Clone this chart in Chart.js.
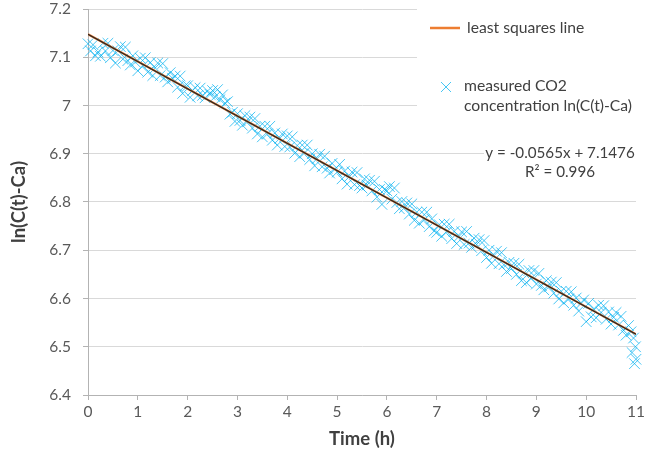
<!DOCTYPE html>
<html lang="en">
<head>
    <meta charset="UTF-8">
    <title>ln(C(t)-Ca) vs time</title>
    <script src="https://cdn.jsdelivr.net/npm/chart.js@4.4.1/dist/chart.umd.min.js"></script>
    <style>
        html, body { margin: 0; padding: 0; background: #fff; }
        #wrap { width: 648px; height: 459px; }
    </style>
</head>
<body>
    <div id="wrap"><canvas id="myChart"></canvas></div>

    <script>
        // readings every 3 minutes
        const sampleStep = 0.05
        const lnValues = [
            7.128, 7.113, 7.126, 7.103, 7.111, 7.102, 7.129, 7.113, 7.129, 7.099, 7.114, 7.088, 7.113, 7.122, 7.096, 7.121, 7.093, 7.084, 7.103, 7.090,
            7.072, 7.098, 7.082, 7.099, 7.069, 7.089, 7.062, 7.078, 7.088, 7.062, 7.087, 7.059, 7.049, 7.068, 7.056, 7.061, 7.038, 7.061, 7.025, 7.041,
            7.041, 7.017, 7.031, 7.037, 7.020, 7.036, 7.021, 7.016, 7.030, 7.023, 7.031, 7.018, 7.033, 7.012, 7.022, 7.005, 7.008, 6.982, 6.986, 6.967,
            6.983, 6.969, 6.959, 6.979, 6.966, 6.976, 6.953, 6.973, 6.941, 6.957, 6.935, 6.957, 6.941, 6.957, 6.928, 6.943, 6.918, 6.932, 6.941, 6.915,
            6.937, 6.914, 6.935, 6.901, 6.917, 6.894, 6.918, 6.902, 6.918, 6.888, 6.900, 6.875, 6.890, 6.899, 6.873, 6.895, 6.870, 6.860, 6.880, 6.867,
            6.862, 6.878, 6.848, 6.864, 6.837, 6.853, 6.862, 6.836, 6.861, 6.834, 6.829, 6.848, 6.835, 6.845, 6.823, 6.843, 6.810, 6.826, 6.795, 6.826,
            6.823, 6.832, 6.806, 6.829, 6.799, 6.786, 6.801, 6.788, 6.798, 6.775, 6.796, 6.762, 6.779, 6.756, 6.779, 6.763, 6.779, 6.749, 6.765, 6.740,
            6.737, 6.753, 6.729, 6.754, 6.738, 6.754, 6.724, 6.739, 6.714, 6.729, 6.738, 6.712, 6.739, 6.715, 6.706, 6.725, 6.712, 6.722, 6.699, 6.720,
            6.685, 6.700, 6.673, 6.689, 6.698, 6.672, 6.695, 6.670, 6.656, 6.675, 6.662, 6.673, 6.650, 6.671, 6.637, 6.653, 6.633, 6.658, 6.642, 6.658,
            6.630, 6.652, 6.627, 6.618, 6.637, 6.624, 6.634, 6.611, 6.633, 6.599, 6.615, 6.591, 6.615, 6.599, 6.614, 6.586, 6.601, 6.574, 6.590, 6.597,
            6.552, 6.590, 6.562, 6.578, 6.560, 6.586, 6.571, 6.585, 6.557, 6.572, 6.547, 6.561, 6.571, 6.545, 6.563, 6.534, 6.524, 6.544, 6.531, 6.518, 6.474
        ]
        // the few low points at the very end
        const outlierTimes = [10.92, 10.97, 10.99]
        const outlierValues = [6.488, 6.465, 6.500]

        // least squares line (from the printed equation)
        const fitTimes = [0, 11]
        const fitValues = [7.1476, 6.5261]
        const equationText = ['y = -0.0565x + 7.1476', 'R\u00b2 = 0.996']

        const yTickLabels = ['6.4', '6.5', '6.6', '6.7', '6.8', '6.9', '7', '7.1', '7.2']
        const xTickLabels = ['0', '1', '2', '3', '4', '5', '6', '7', '8', '9', '10', '11']

        const blue = 'rgba(0, 176, 240, 0.72)'
        const orange = '#ED7D31'
        const font = 'Lato, "Liberation Sans", sans-serif'

        let measured = lnValues.map((v, i) => ({ x: +(i * sampleStep).toFixed(2), y: v }))
        outlierTimes.forEach((t, i) => measured.push({ x: t, y: outlierValues[i] }))
        let fitLine = fitTimes.map((t, i) => ({ x: t, y: fitValues[i] }))

        // legend box + equation label, drawn on top like Excel does
        const overlay = {
            id: 'overlay',
            afterDraw(chart) {
                const c = chart.ctx
                c.save()
                c.fillStyle = '#fff'
                c.fillRect(417, 0, 231, 122)
                c.fillRect(484, 142, 153, 40)

                c.strokeStyle = orange
                c.lineWidth = 2.5
                c.beginPath()
                c.moveTo(430, 28)
                c.lineTo(460, 28)
                c.stroke()

                c.strokeStyle = blue
                c.lineWidth = 1
                c.beginPath()
                c.moveTo(441, 82); c.lineTo(451, 92)
                c.moveTo(451, 82); c.lineTo(441, 92)
                c.stroke()

                c.fillStyle = '#404040'
                c.font = '15.7px ' + font
                c.textBaseline = 'middle'
                c.textAlign = 'left'
                c.fillText('least squares line', 467, 28)
                c.fillText('measured CO2', 464, 86)
                c.fillText('concentration ln(C(t)-Ca)', 464, 106)

                c.font = '15.2px ' + font
                c.textAlign = 'center'
                c.fillText(equationText[0], 560, 153)
                c.fillText(equationText[1], 560, 172)
                c.restore()
            }
        }

        const ctx = document.getElementById('myChart').getContext('2d')
        const myChart = new Chart(ctx, {
            type: 'scatter',
            data: {
                datasets: [{
                    label: 'trend',
                    type: 'line',
                    data: fitLine,
                    borderColor: '#262626',
                    borderWidth: 1.2,
                    pointRadius: 0,
                    order: 1
                }, {
                    label: 'least squares line',
                    type: 'line',
                    data: fitLine,
                    borderColor: orange,
                    borderWidth: 2.2,
                    pointRadius: 0,
                    order: 2
                }, {
                    label: 'measured CO2 concentration ln(C(t)-Ca)',
                    data: measured,
                    pointStyle: 'crossRot',
                    pointRadius: 7.5,
                    borderColor: blue,
                    borderWidth: 1,
                    clip: false,
                    order: 3
                }]
            },
            options: {
                responsive: true,
                maintainAspectRatio: false,
                animation: false,
                layout: { padding: { top: 0, right: 12, bottom: 0, left: 0 } },
                plugins: {
                    legend: { display: false },
                    tooltip: { enabled: false }
                },
                scales: {
                    x: {
                        type: 'linear',
                        min: 0,
                        max: 11,
                        afterFit: s => { s.height = 64 },
                        ticks: {
                            stepSize: 1,
                            color: '#595959',
                            font: { family: font, size: 15.5 },
                            padding: 3,
                            maxRotation: 0,
                            callback: v => xTickLabels[Math.round(v)]
                        },
                        grid: { drawOnChartArea: false, tickLength: 5, color: '#b3b3b3' },
                        border: { color: '#b3b3b3' },
                        title: {
                            display: true,
                            text: 'Time (h)',
                            color: '#404040',
                            font: { family: font, size: 18.5, weight: 'bold' },
                            padding: { top: 0, bottom: 9 }
                        }
                    },
                    y: {
                        min: 6.4,
                        max: 7.2,
                        afterFit: s => {
                            s.width = 88
                            // keep the plot top where the reference has it
                            s.paddingTop = 9
                            s.paddingBottom = 0
                        },
                        ticks: {
                            stepSize: 0.1,
                            color: '#595959',
                            font: { family: font, size: 15.5 },
                            padding: 12,
                            callback: v => yTickLabels[Math.round((v - 6.4) * 10)]
                        },
                        grid: { color: '#d9d9d9', tickColor: '#b3b3b3', tickLength: 5 },
                        border: { color: '#b3b3b3' },
                        title: {
                            display: true,
                            text: 'ln(C(t)-Ca)',
                            color: '#404040',
                            font: { family: font, size: 18.5, weight: 'bold' },
                            padding: { top: 8, bottom: 0 }
                        }
                    }
                }
            },
            plugins: [overlay]
        })
    </script>
</body>
</html>
